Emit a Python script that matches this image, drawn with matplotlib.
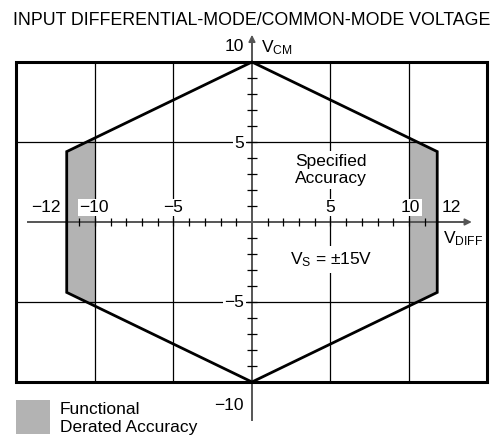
import numpy as np
import matplotlib
matplotlib.use("Agg")
import matplotlib.pyplot as plt
from matplotlib.patches import Polygon, Rectangle

plt.rcParams['font.family'] = ['Liberation Sans', 'DejaVu Sans']
plt.rcParams['mathtext.fontset'] = 'custom'
plt.rcParams['mathtext.rm'] = 'Liberation Sans'
plt.rcParams['mathtext.it'] = 'Liberation Sans'

# ---- data ----
title = "INPUT DIFFERENTIAL-MODE/COMMON-MODE VOLTAGE"
hex_x = [0, 11.8, 11.8, 0, -11.8, -11.8]
hex_y = [10, 4.4, -4.4, -10, -4.4, 4.4]
band_right = [10, 11.8]
band_left = [-11.8, -10]
grid_x = [-10, -5, 5, 10]
grid_y = [-5, 5]
box_x = [-15, 15]
box_y = [-10, 10]
x_minor = [v for v in range(-11, 12) if v != 0]
y_minor = [v for v in range(-9, 10) if v != 0]
x_labels = ["\u221212", "\u221210", "\u22125", "5", "10", "12"]
x_label_pos = [-13.1, -10.06, -5.0, 5.0, 10.1, 12.7]
x_label_bg = [False, True, True, True, True, False]
y_labels = ["10", "5", "\u22125", "\u221210"]
y_label_pos = [10.69, 4.62, -5.34, -11.75]
y_label_bg = [False, True, True, False]

fig = plt.figure(figsize=(4.95, 4.38), dpi=100)
ax = fig.add_axes([0, 0, 1, 1])
ax.set_xlim(-16.05, 15.48)
ax.set_ylim(-13.5, 13.875)
ax.axis('off')

gray = '#b3b3b3'
axis_col = '#555555'

hexagon = Polygon(np.column_stack([hex_x, hex_y]), closed=True, fill=False,
                  edgecolor='black', lw=2.0, zorder=5, joinstyle='miter')
ax.add_patch(hexagon)
clip = Polygon(np.column_stack([hex_x, hex_y]), closed=True, fill=False,
               edgecolor='none', transform=ax.transData)
for b in (band_right, band_left):
    r = Rectangle((b[0], -10), b[1] - b[0], 20, facecolor=gray,
                  edgecolor='none', zorder=1)
    ax.add_patch(r)
    r.set_clip_path(clip)

# grid
for gx in grid_x:
    ax.plot([gx, gx], box_y, color='black', lw=0.9, zorder=2)
for gy in grid_y:
    ax.plot(box_x, [gy, gy], color='black', lw=0.9, zorder=2)

# box
ax.add_patch(Rectangle((box_x[0], box_y[0]), box_x[1] - box_x[0],
                       box_y[1] - box_y[0], fill=False, edgecolor='black',
                       lw=2.2, zorder=6, joinstyle='miter'))

# axes with arrows
ax.plot([-14.27, 13.5], [0, 0], color=axis_col, lw=1.4, zorder=3)
ax.annotate('', xy=(14.0, 0), xytext=(13.3, 0),
            arrowprops=dict(arrowstyle='-|>', color=axis_col, lw=1.2,
                            mutation_scale=10, shrinkA=0, shrinkB=0), zorder=3)
ax.plot([0, 0], [-12.4, 11.2], color=axis_col, lw=1.4, zorder=3)
ax.annotate('', xy=(0, 11.7), xytext=(0, 11.0),
            arrowprops=dict(arrowstyle='-|>', color=axis_col, lw=1.2,
                            mutation_scale=10, shrinkA=0, shrinkB=0), zorder=3)

# minor ticks
ax.vlines(x_minor, -0.28, 0.28, color='black', lw=0.9, zorder=3)
ax.hlines(y_minor, -0.29, 0.29, color='black', lw=0.9, zorder=3)

fs = 12.5
bg = dict(facecolor='white', edgecolor='none', pad=1.0)
for lab, xp, hb in zip(x_labels, x_label_pos, x_label_bg):
    ax.text(xp, 0.62, lab, ha='center', va='baseline', fontsize=fs,
            bbox=bg if hb else None, zorder=7)
for lab, yp, hb in zip(y_labels, y_label_pos, y_label_bg):
    ax.text(-0.5, yp, lab, ha='right', va='baseline', fontsize=fs,
            bbox=bg if hb else None, zorder=7)

ax.text(0.57, 10.63, r'V$_{\mathrm{CM}}$', ha='left', va='baseline', fontsize=fs, zorder=7)
ax.text(12.17, -1.31, r'V$_{\mathrm{DIFF}}$', ha='left', va='baseline', fontsize=fs, zorder=7)
ax.text(5.05, 3.25, 'Specified\nAccuracy', ha='center', va='center', fontsize=fs,
        linespacing=1.2, bbox=dict(facecolor='white', edgecolor='none', pad=2.0), zorder=7)
ax.text(5.05, -2.62, 'V$_{\\mathrm{S}}$ = \u00b115V',
        ha='center', va='baseline', fontsize=fs,
        bbox=dict(facecolor='white', edgecolor='none', pad=3.0), zorder=7)

ax.text(0, 12.31, title, ha='center', va='baseline', fontsize=12.8, zorder=7)

# legend
ax.add_patch(Rectangle((-15.0, -13.25), 2.13, 2.125, facecolor=gray,
                       edgecolor='none', zorder=7))
ax.text(-12.23, -12.0, 'Functional', ha='left', va='baseline', fontsize=fs, zorder=7)
ax.text(-12.23, -13.1, 'Derated Accuracy', ha='left', va='baseline', fontsize=fs, zorder=7)

fig.savefig('out.png', dpi=100)
